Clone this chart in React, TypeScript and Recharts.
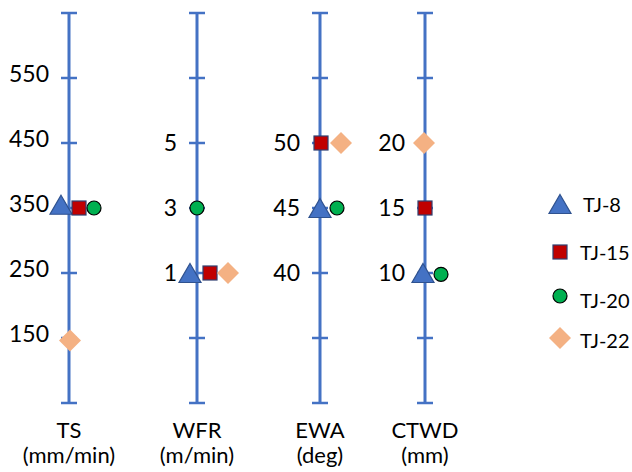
import React from 'react';
import { ScatterChart, Scatter, XAxis, YAxis, ReferenceLine, ReferenceDot, Legend } from 'recharts';

// ---------------------------------------------------------------------------
// Data
// ---------------------------------------------------------------------------
const CATEGORIES = ['TS', 'WFR', 'EWA', 'CTWD'];
const UNITS = ['(mm/min)', '(m/min)', '(deg)', '(mm)'];

// each parallel axis has its own scale: value at the lowest tick and step per tick
const AXIS_MIN = [50, -3, 30, 0];
const AXIS_STEP = [100, 2, 5, 5];

const TS_TICKS = [150, 250, 350, 450, 550];
const WFR_TICKS = [1, 3, 5];
const EWA_TICKS = [40, 45, 50];
const CTWD_TICKS = [10, 15, 20];
const TICK_LABELS = [TS_TICKS, WFR_TICKS, EWA_TICKS, CTWD_TICKS];

const SERIES_NAMES = ['TJ-8', 'TJ-15', 'TJ-20', 'TJ-22'];
const TJ8 = [355, 1, 45, 10];
const TJ15 = [350, 1, 50, 15];
const TJ20 = [350, 3, 45, 9.9];
const TJ22 = [146, 1, 50, 20];
const SERIES_VALUES = [TJ8, TJ15, TJ20, TJ22];

// ---------------------------------------------------------------------------
// Layout
// ---------------------------------------------------------------------------
const W = 632;
const H = 472;
const AXIS_X = [69, 197, 320, 425];
const TICK_COUNT = 7;
// sideways nudge of each marker so overlapping points stay visible
const JITTER = [
  [-8, -7, 0, -2],
  [10, 13, 1, 0],
  [25, 0, 17, 16],
  [1, 31, 21, -1],
];
const BLUE = '#4472C4';
const FONT = 'Lato, "Open Sans", sans-serif';

type Kind = 'triangle' | 'square' | 'circle' | 'diamond';
const KINDS: Kind[] = ['triangle', 'square', 'circle', 'diamond'];

function Marker({ kind, cx, cy }: { kind: Kind; cx: number; cy: number }) {
  if (kind === 'triangle') {
    const w = 22, h = 19;
    return (
      <polygon
        points={`${cx},${cy - h / 2} ${cx + w / 2},${cy + h / 2} ${cx - w / 2},${cy + h / 2}`}
        fill="#4472C4"
        stroke="#2F528F"
        strokeWidth={1.2}
      />
    );
  }
  if (kind === 'square') {
    return <rect x={cx - 7} y={cy - 7} width={14} height={14} fill="#C00000" stroke="#2F3F70" strokeWidth={1.2} />;
  }
  if (kind === 'circle') {
    return <circle cx={cx} cy={cy} r={7} fill="#00B050" stroke="#000" strokeWidth={1.2} />;
  }
  return (
    <polygon
      points={`${cx},${cy - 11} ${cx + 11},${cy} ${cx},${cy + 11} ${cx - 11},${cy}`}
      fill="#F4B183"
    />
  );
}

const seriesData = SERIES_VALUES.map((vals, s) =>
  CATEGORIES.map((c, i) => ({
    category: c,
    x: AXIS_X[i] + JITTER[s][i],
    y: (vals[i] - AXIS_MIN[i]) / AXIS_STEP[i],
  }))
);

function LegendBox() {
  const rows = [
    { cy: 204, ty: 212 },
    { cy: 252, ty: 260 },
    { cy: 296, ty: 308 },
    { cy: 338, ty: 348 },
  ];
  return (
    <svg width={W} height={H} style={{ position: 'absolute', left: 0, top: 0, pointerEvents: 'none' }}>
      {rows.map((r, i) => (
        <g key={SERIES_NAMES[i]}>
          <Marker kind={KINDS[i]} cx={560} cy={r.cy} />
          <text x={i === 0 ? 583 : 580} y={r.ty} fontFamily={FONT} fontSize={20} fill="#000">
            {SERIES_NAMES[i]}
          </text>
        </g>
      ))}
    </svg>
  );
}

export default function App() {
  const ticks = Array.from({ length: TICK_COUNT }, (_, k) => k);
  return (
    <div style={{ position: 'absolute', left: 0, top: 0, width: W, height: H, background: '#fff' }}>
      <ScatterChart width={W} height={H} margin={{ top: 13, right: 0, bottom: 69, left: 0 }}>
        <XAxis type="number" dataKey="x" domain={[0, W]} hide />
        <YAxis type="number" dataKey="y" domain={[0, TICK_COUNT - 1]} hide />

        {AXIS_X.map((ax) => (
          <ReferenceLine
            key={`axis-${ax}`}
            segment={[{ x: ax, y: 0 }, { x: ax, y: TICK_COUNT - 1 }]}
            stroke={BLUE}
            strokeWidth={3}
          />
        ))}
        {AXIS_X.map((ax) =>
          ticks.map((k) => (
            <ReferenceLine
              key={`tick-${ax}-${k}`}
              segment={[{ x: ax - 8, y: k }, { x: ax + 8, y: k }]}
              stroke={BLUE}
              strokeWidth={2.5}
            />
          ))
        )}

        {TICK_LABELS.map((labels, i) =>
          labels.map((v) => (
            <ReferenceDot
              key={`lbl-${i}-${v}`}
              x={AXIS_X[i]}
              y={(v - AXIS_MIN[i]) / AXIS_STEP[i]}
              shape={(p: any) => (
                <text
                  x={p.cx - 20}
                  y={p.cy + (i === 0 ? 4 : 8)}
                  textAnchor="end"
                  fontFamily={FONT}
                  fontSize={23}
                  fill="#000"
                >
                  {v}
                </text>
              )}
            />
          ))
        )}

        {CATEGORIES.map((c, i) => (
          <ReferenceDot
            key={`title-${c}`}
            x={AXIS_X[i]}
            y={0}
            ifOverflow="visible"
            shape={(p: any) => (
              <text textAnchor="middle" fontFamily={FONT} fontSize={22} fill="#000">
                <tspan x={p.cx} y={p.cy + 35}>{c}</tspan>
                <tspan x={p.cx} y={p.cy + 60}>{UNITS[i]}</tspan>
              </text>
            )}
          />
        ))}

        {seriesData.map((data, s) => (
          <Scatter
            key={SERIES_NAMES[s]}
            name={SERIES_NAMES[s]}
            data={data}
            isAnimationActive={false}
            shape={(p: any) => <Marker kind={KINDS[s]} cx={p.cx} cy={p.cy} />}
          />
        ))}

        <Legend content={() => null} />
      </ScatterChart>
      <LegendBox />
    </div>
  );
}
